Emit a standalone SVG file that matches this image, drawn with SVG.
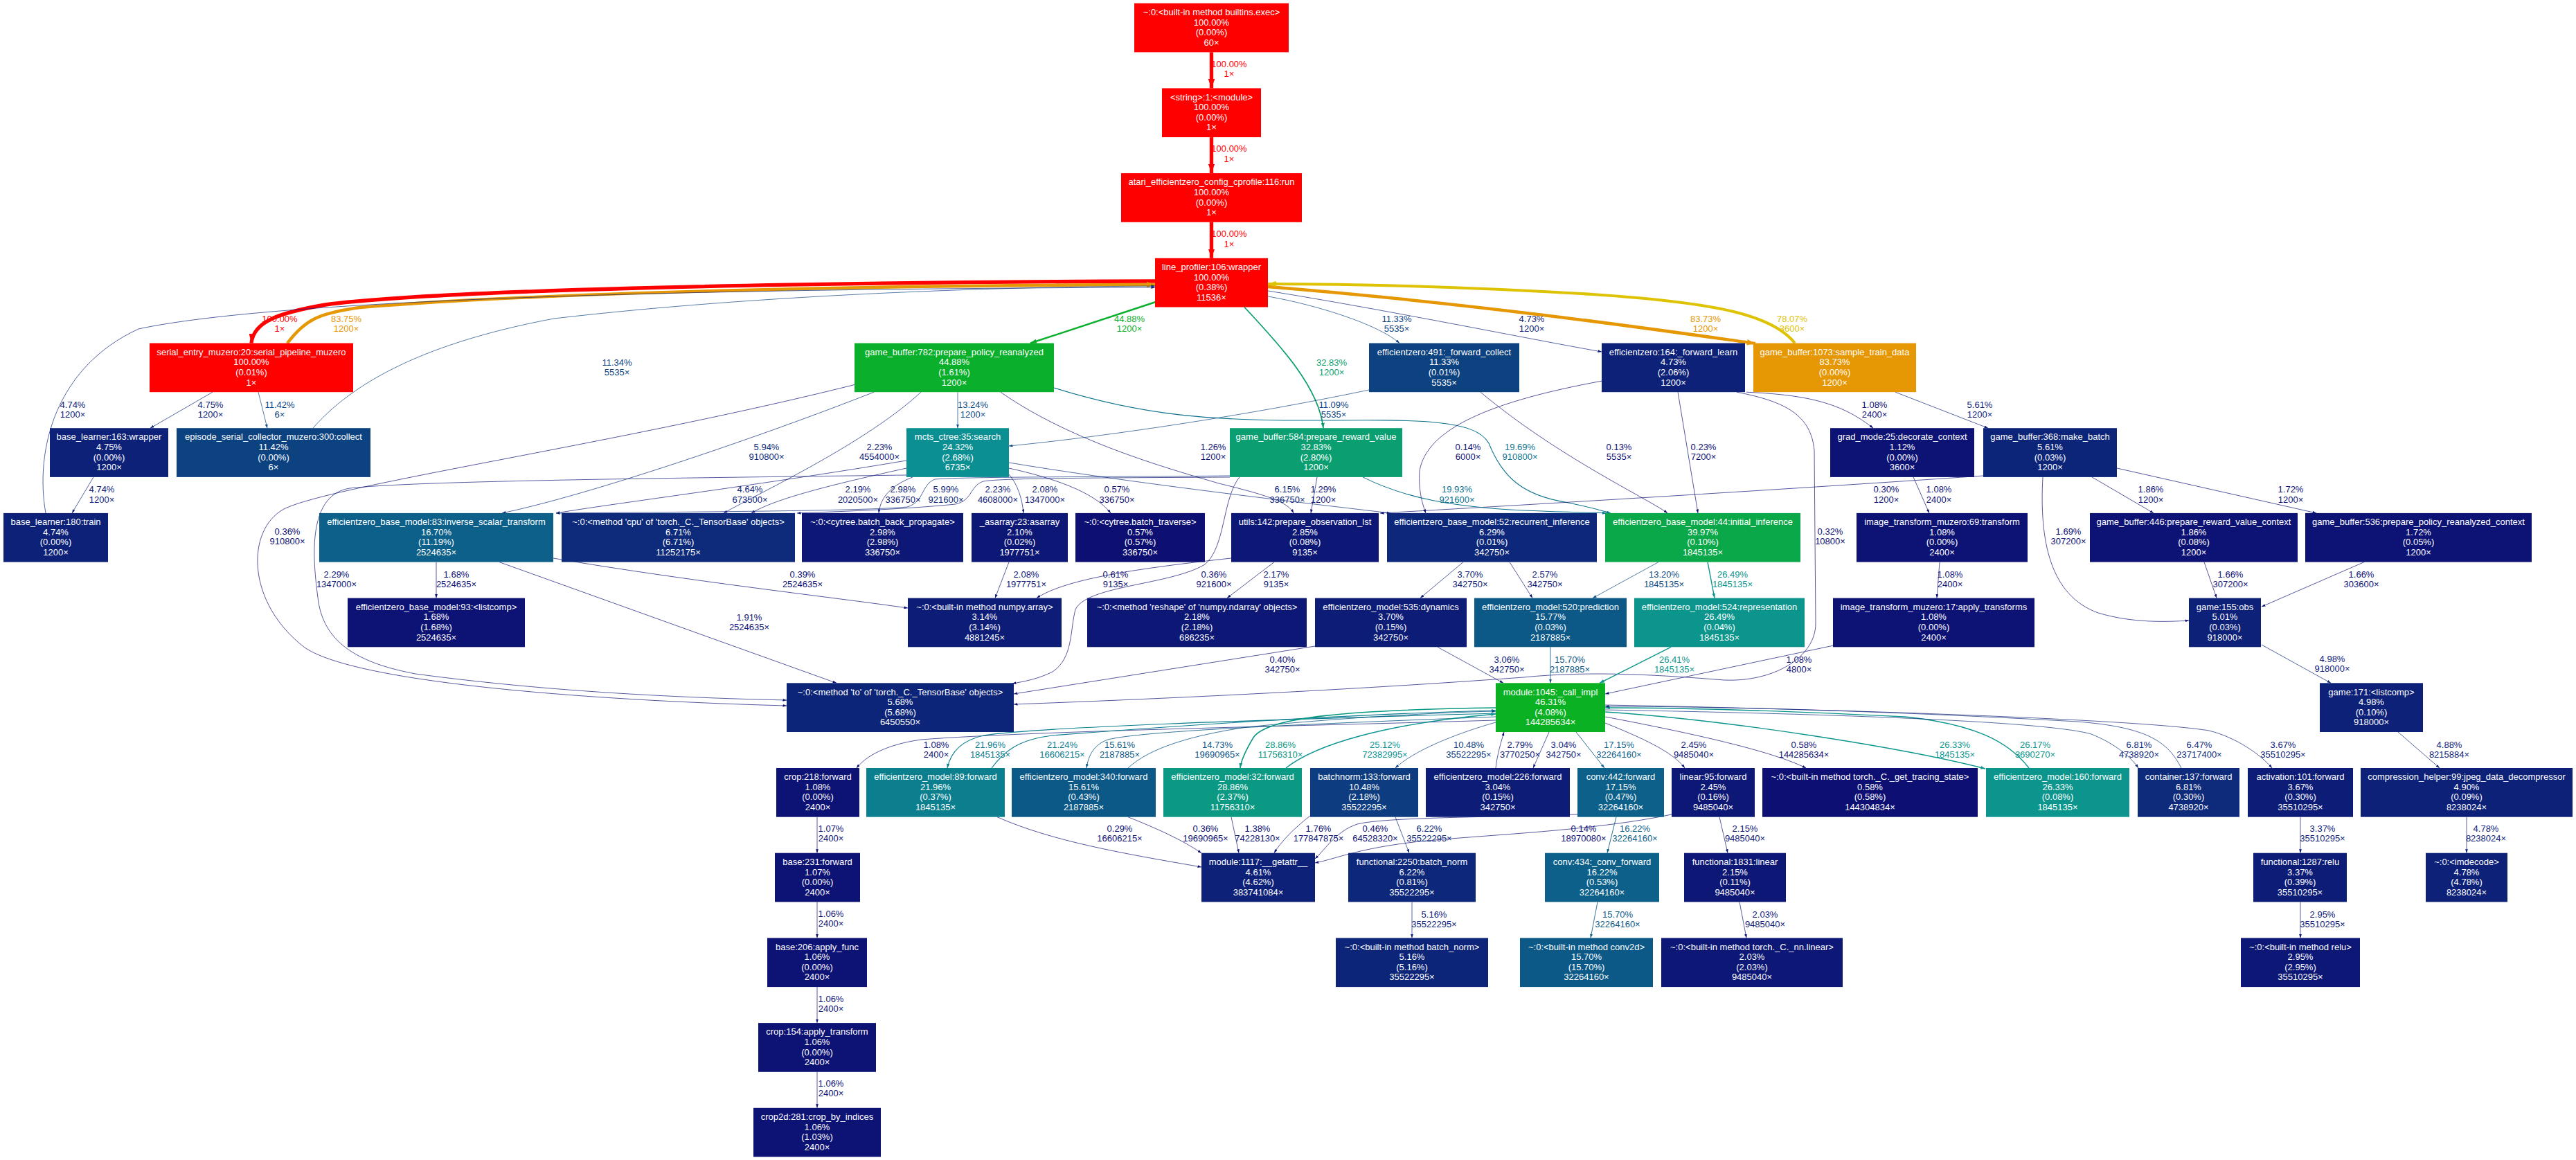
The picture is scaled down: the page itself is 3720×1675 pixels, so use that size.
<svg xmlns="http://www.w3.org/2000/svg" width="3720" height="1675" viewBox="0 0 3720 1675">
<style>
text{font-family:"Liberation Sans",Arial,Helvetica,sans-serif;font-size:13px}
.n text{fill:#fff;text-anchor:middle}
.l{text-anchor:middle}
.e{fill:none;stroke-width:.7}
.k-red{fill:#ff0000}.k-org{fill:#e69704}.k-g45{fill:#0aaf2c}.k-g46{fill:#0ab123}.k-g40{fill:#0ba84a}.k-g33{fill:#0b9e70}
.k-t29{fill:#0c9983}.k-t26{fill:#0c958d}.k-t24{fill:#0c8f92}.k-t22{fill:#0c7f8f}.k-b17{fill:#0c6089}.k-b16{fill:#0c5987}
.k-b11{fill:#0d4281}.k-b10{fill:#0d3d80}.k-n7{fill:#0d2a7b}.k-n6{fill:#0d287b}.k-n5{fill:#0d2579}.k-n4{fill:#0d2179}
.k-n3{fill:#0d1c77}.k-n2{fill:#0d1776}.k-n1{fill:#0d1275}.k-n0{fill:#0d0f73}
path.red{stroke:#ff0000;stroke-width:5.33;marker-end:url(#m-red)}text.red{fill:#ff0000}
path.org{stroke:#e69704;stroke-width:4.47;marker-end:url(#m-org)}text.org{fill:#e69704}
path.yel{stroke:#dec305;stroke-width:4.16;marker-end:url(#m-yel)}text.yel{fill:#dec305}
path.g45{stroke:#0aaf2c;stroke-width:2.39;marker-end:url(#m-g45)}text.g45{fill:#0aaf2c}
path.g33{stroke:#0b9e70;stroke-width:1.75;marker-end:url(#m-g33)}text.g33{fill:#0b9e70}
path.t29{stroke:#0c9983;stroke-width:1.54;marker-end:url(#m-t29)}text.t29{fill:#0c9983}
path.t26{stroke:#0c958d;stroke-width:1.4;marker-end:url(#m-t26)}text.t26{fill:#0c958d}
path.t25{stroke:#0c9493;stroke-width:1.34;marker-end:url(#m-t25)}text.t25{fill:#0c9493}
path.t22{stroke:#0c7d8f;stroke-width:1.15;marker-end:url(#m-t22)}text.t22{fill:#0c7d8f}
path.t20{stroke:#0c728d;stroke-width:1.05;marker-end:url(#m-t20)}text.t20{fill:#0c728d}
path.b17{stroke:#0c5f89;stroke-width:.9;marker-end:url(#m-b17)}text.b17{fill:#0c5f89}
path.b16{stroke:#0c5987;stroke-width:.84;marker-end:url(#m-b16)}text.b16{fill:#0c5987}
path.b15{stroke:#0c5486;stroke-width:.79;marker-end:url(#m-b15)}text.b15{fill:#0c5486}
path.b13{stroke:#0d4c84;stroke-width:.72;marker-end:url(#m-b13)}text.b13{fill:#0d4c84}
path.b11{stroke:#0d4281;marker-end:url(#m-b11)}text.b11{fill:#0d4281}
path.b10{stroke:#0d3d80;marker-end:url(#m-b10)}text.b10{fill:#0d3d80}
path.n7{stroke:#0d2a7b;marker-end:url(#m-n7)}text.n7{fill:#0d2a7b}
path.n5{stroke:#0d2279;marker-end:url(#m-n5)}text.n5{fill:#0d2279}
path.n3{stroke:#0d1c77;marker-end:url(#m-n3)}text.n3{fill:#0d1c77}
path.n2{stroke:#0d1776;marker-end:url(#m-n2)}text.n2{fill:#0d1776}
path.n1{stroke:#0d1275;marker-end:url(#m-n1)}text.n1{fill:#0d1275}
path.n0{stroke:#0d0f73;marker-end:url(#m-n0)}text.n0{fill:#0d0f73}
</style>
<defs>
<marker id="m-red" markerUnits="userSpaceOnUse" viewBox="0 0 13.3 9.4" markerWidth="13.3" markerHeight="9.4" refX="13.3" refY="4.7" orient="auto"><path d="M0,0L13.3,4.7L0,9.4z" fill="#ff0000"/></marker>
<marker id="m-org" markerUnits="userSpaceOnUse" viewBox="0 0 12.2 8.6" markerWidth="12.2" markerHeight="8.6" refX="12.2" refY="4.3" orient="auto"><path d="M0,0L12.2,4.3L0,8.6z" fill="#e69704"/></marker>
<marker id="m-yel" markerUnits="userSpaceOnUse" viewBox="0 0 11.8 8.4" markerWidth="11.8" markerHeight="8.4" refX="11.8" refY="4.2" orient="auto"><path d="M0,0L11.8,4.2L0,8.4z" fill="#dec305"/></marker>
<marker id="m-g45" markerUnits="userSpaceOnUse" viewBox="0 0 9 6.4" markerWidth="9" markerHeight="6.4" refX="9" refY="3.2" orient="auto"><path d="M0,0L9,3.2L0,6.4z" fill="#0aaf2c"/></marker>
<marker id="m-g33" markerUnits="userSpaceOnUse" viewBox="0 0 7.6 5.4" markerWidth="7.6" markerHeight="5.4" refX="7.6" refY="2.7" orient="auto"><path d="M0,0L7.6,2.7L0,5.4z" fill="#0b9e70"/></marker>
<marker id="m-t29" markerUnits="userSpaceOnUse" viewBox="0 0 7.2 5" markerWidth="7.2" markerHeight="5" refX="7.2" refY="2.5" orient="auto"><path d="M0,0L7.2,2.5L0,5z" fill="#0c9983"/></marker>
<marker id="m-t26" markerUnits="userSpaceOnUse" viewBox="0 0 6.8 4.8" markerWidth="6.8" markerHeight="4.8" refX="6.8" refY="2.4" orient="auto"><path d="M0,0L6.8,2.4L0,4.8z" fill="#0c958d"/></marker>
<marker id="m-t25" markerUnits="userSpaceOnUse" viewBox="0 0 6.7 4.7" markerWidth="6.7" markerHeight="4.7" refX="6.7" refY="2.35" orient="auto"><path d="M0,0L6.7,2.35L0,4.7z" fill="#0c9493"/></marker>
<marker id="m-t22" markerUnits="userSpaceOnUse" viewBox="0 0 6.3 4.4" markerWidth="6.3" markerHeight="4.4" refX="6.3" refY="2.2" orient="auto"><path d="M0,0L6.3,2.2L0,4.4z" fill="#0c7d8f"/></marker>
<marker id="m-t20" markerUnits="userSpaceOnUse" viewBox="0 0 6 4.2" markerWidth="6" markerHeight="4.2" refX="6" refY="2.1" orient="auto"><path d="M0,0L6,2.1L0,4.2z" fill="#0c728d"/></marker>
<marker id="m-b17" markerUnits="userSpaceOnUse" viewBox="0 0 5.8 4" markerWidth="5.8" markerHeight="4" refX="5.8" refY="2" orient="auto"><path d="M0,0L5.8,2L0,4z" fill="#0c5f89"/></marker>
<marker id="m-b16" markerUnits="userSpaceOnUse" viewBox="0 0 5.7 4" markerWidth="5.7" markerHeight="4" refX="5.7" refY="2" orient="auto"><path d="M0,0L5.7,2L0,4z" fill="#0c5987"/></marker>
<marker id="m-b15" markerUnits="userSpaceOnUse" viewBox="0 0 5.6 4" markerWidth="5.6" markerHeight="4" refX="5.6" refY="2" orient="auto"><path d="M0,0L5.6,2L0,4z" fill="#0c5486"/></marker>
<marker id="m-b13" markerUnits="userSpaceOnUse" viewBox="0 0 5.5 3.9" markerWidth="5.5" markerHeight="3.9" refX="5.5" refY="1.95" orient="auto"><path d="M0,0L5.5,1.95L0,3.9z" fill="#0d4c84"/></marker>
<marker id="m-b11" markerUnits="userSpaceOnUse" viewBox="0 0 5.5 3.9" markerWidth="5.5" markerHeight="3.9" refX="5.5" refY="1.95" orient="auto"><path d="M0,0L5.5,1.95L0,3.9z" fill="#0d4281"/></marker>
<marker id="m-b10" markerUnits="userSpaceOnUse" viewBox="0 0 5.5 3.9" markerWidth="5.5" markerHeight="3.9" refX="5.5" refY="1.95" orient="auto"><path d="M0,0L5.5,1.95L0,3.9z" fill="#0d3d80"/></marker>
<marker id="m-n7" markerUnits="userSpaceOnUse" viewBox="0 0 5.5 3.9" markerWidth="5.5" markerHeight="3.9" refX="5.5" refY="1.95" orient="auto"><path d="M0,0L5.5,1.95L0,3.9z" fill="#0d2a7b"/></marker>
<marker id="m-n5" markerUnits="userSpaceOnUse" viewBox="0 0 5.5 3.9" markerWidth="5.5" markerHeight="3.9" refX="5.5" refY="1.95" orient="auto"><path d="M0,0L5.5,1.95L0,3.9z" fill="#0d2279"/></marker>
<marker id="m-n3" markerUnits="userSpaceOnUse" viewBox="0 0 5.5 3.9" markerWidth="5.5" markerHeight="3.9" refX="5.5" refY="1.95" orient="auto"><path d="M0,0L5.5,1.95L0,3.9z" fill="#0d1c77"/></marker>
<marker id="m-n2" markerUnits="userSpaceOnUse" viewBox="0 0 5.5 3.9" markerWidth="5.5" markerHeight="3.9" refX="5.5" refY="1.95" orient="auto"><path d="M0,0L5.5,1.95L0,3.9z" fill="#0d1776"/></marker>
<marker id="m-n1" markerUnits="userSpaceOnUse" viewBox="0 0 5.5 3.9" markerWidth="5.5" markerHeight="3.9" refX="5.5" refY="1.95" orient="auto"><path d="M0,0L5.5,1.95L0,3.9z" fill="#0d1275"/></marker>
<marker id="m-n0" markerUnits="userSpaceOnUse" viewBox="0 0 5.5 3.9" markerWidth="5.5" markerHeight="3.9" refX="5.5" refY="1.95" orient="auto"><path d="M0,0L5.5,1.95L0,3.9z" fill="#0d0f73"/></marker>
</defs>
<rect width="3720" height="1675" fill="#fff"/>
<g id="connectors">
<path class="e red" d="M1749.5,75.4L1749.5,127.4"/><text class="l red" x="1775" y="96.5">100.00%<tspan x="1775" dy="14.5">1×</tspan></text>
<path class="e red" d="M1749.5,198.1L1749.5,250.1"/><text class="l red" x="1775" y="219">100.00%<tspan x="1775" dy="14.5">1×</tspan></text>
<path class="e red" d="M1749.5,320.8L1749.5,372.8"/><text class="l red" x="1775" y="342">100.00%<tspan x="1775" dy="14.5">1×</tspan></text>
<path class="e red" d="M1668,406C1100,408 620,420 470,440C400,452 366,465 363,495.5"/><text class="l red" x="404" y="464.5">100.00%<tspan x="404" dy="14.5">1×</tspan></text>
<path class="e org" d="M415,495.5C440,462 460,452 520,444C800,421 1300,412 1668,411"/><text class="l org" x="500" y="464.5">83.75%<tspan x="500" dy="14.5">1200×</tspan></text>
<path class="e org" d="M1831,414C2150,440 2420,480 2535,496"/><text class="l org" x="2463" y="464.5">83.73%<tspan x="2463" dy="14.5">1200×</tspan></text>
<path class="e yel" d="M2592,495.5C2560,455 2480,437 2300,425C2100,413 1950,410 1831,410"/><text class="l yel" x="2588" y="464.5">78.07%<tspan x="2588" dy="14.5">3600×</tspan></text>
<path class="e g45" d="M1672,435L1488,495.5"/><text class="l g45" x="1631" y="464.5">44.88%<tspan x="1631" dy="14.5">1200×</tspan></text>
<path class="e g33" d="M1797,443.5C1850,500 1905,560 1911,618.2"/><text class="l g33" x="1923" y="527.5">32.83%<tspan x="1923" dy="14.5">1200×</tspan></text>
<path class="e b11" d="M1831,428C1900,440 1990,468 2021,495.5"/><text class="l b11" x="2017" y="464.5">11.33%<tspan x="2017" dy="14.5">5535×</tspan></text>
<path class="e n5" d="M1831,420C2000,447 2200,488 2313,508"/><text class="l n5" x="2212" y="464.5">4.73%<tspan x="2212" dy="14.5">1200×</tspan></text>
<path class="e b11" d="M452,618.2C520,540 640,490 800,460C1100,425 1450,414 1668,413"/><text class="l b11" x="891" y="527.5">11.34%<tspan x="891" dy="14.5">5535×</tspan></text>
<path class="e n5" d="M66,740.9C50,650 80,530 200,475C400,432 1000,417 1668,415"/><text class="l n5" x="105" y="588.5">4.74%<tspan x="105" dy="14.5">1200×</tspan></text>
<path class="e n5" d="M307,566.2L217,618.2"/><text class="l n5" x="304" y="588.5">4.75%<tspan x="304" dy="14.5">1200×</tspan></text>
<path class="e b11" d="M373,566.2L386,618.2"/><text class="l b11" x="404" y="588.5">11.42%<tspan x="404" dy="14.5">6×</tspan></text>
<path class="e n5" d="M135,688.9L104,740.9"/><text class="l n5" x="147" y="711">4.74%<tspan x="147" dy="14.5">1200×</tspan></text>
<path class="e b13" d="M1383,566.2L1383,618.2"/><text class="l b13" x="1405" y="588.5">13.24%<tspan x="1405" dy="14.5">1200×</tspan></text>
<path class="e n7" d="M1262,566.2C1100,630 850,715 725,740.9"/><text class="l n7" x="1107" y="649.5">5.94%<tspan x="1107" dy="14.5">910800×</tspan></text>
<path class="e n5" d="M1330,566.2C1250,640 1100,710 1045,740.9"/><text class="l n5" x="1083" y="711">4.64%<tspan x="1083" dy="14.5">673500×</tspan></text>
<path class="e n0" d="M1244,553C900,640 480,700 410,735C355,765 355,870 440,935C520,990 900,1013 1136,1019"/><text class="l n0" x="415" y="771.5">0.36%<tspan x="415" dy="14.5">910800×</tspan></text>
<path class="e n2" d="M1309,686C1000,690 600,694 505,705C445,715 450,800 460,870C470,930 520,958 600,973C800,1000 1000,1008 1136,1011"/><text class="l n2" x="486" y="833.5">2.29%<tspan x="486" dy="14.5">1347000×</tspan></text>
<path class="e t20" d="M1522,560C1650,600 1750,608 1900,607C2050,606 2130,605 2150,640C2170,690 2200,715 2260,725C2300,733 2315,738 2326,741"/><text class="l t20" x="2195" y="649.5">19.69%<tspan x="2195" dy="14.5">910800×</tspan></text>
<path class="e n1" d="M1445,566.2C1550,640 1700,680 1760,698C1830,715 1860,725 1868,740.9"/><text class="l n1" x="1752" y="649.5">1.26%<tspan x="1752" dy="14.5">1200×</tspan></text>
<path class="e n2" d="M1309,665C1100,700 900,725 803,740.9"/><text class="l n2" x="1270" y="649.5">2.23%<tspan x="1270" dy="14.5">4554000×</tspan></text>
<path class="e n7" d="M1776,687C1600,689 1400,688 1350,692C1330,700 1335,725 1310,732C1250,738 1000,739 803,741"/><text class="l n7" x="1366" y="711">5.99%<tspan x="1366" dy="14.5">921600×</tspan></text>
<path class="e n2" d="M1776,689C1600,690 1450,690 1420,695C1400,702 1405,722 1380,728C1300,736 1200,739 1151,740.9"/><text class="l n2" x="1441" y="711">2.23%<tspan x="1441" dy="14.5">4608000×</tspan></text>
<path class="e n2" d="M1309,676C1200,700 1120,720 1085,740.9"/><text class="l n2" x="1239" y="711">2.19%<tspan x="1239" dy="14.5">2020500×</tspan></text>
<path class="e n2" d="M1318,688.9C1290,700 1272,715 1269,740.9"/><text class="l n2" x="1304" y="711">2.98%<tspan x="1304" dy="14.5">336750×</tspan></text>
<path class="e n2" d="M1457,685C1470,700 1476,720 1478,740.9"/><text class="l n2" x="1509" y="711">2.08%<tspan x="1509" dy="14.5">1347000×</tspan></text>
<path class="e n0" d="M1457,676C1520,690 1580,710 1604,740.9"/><text class="l n0" x="1613" y="711">0.57%<tspan x="1613" dy="14.5">336750×</tspan></text>
<path class="e n7" d="M1457,668C1650,700 1900,728 2008,741"/><text class="l n7" x="1859" y="711">6.15%<tspan x="1859" dy="14.5">336750×</tspan></text>
<path class="e b11" d="M1977,563C1800,600 1600,630 1457,644"/><text class="l b11" x="1926" y="588.5">11.09%<tspan x="1926" dy="14.5">5535×</tspan></text>
<path class="e n0" d="M2138,566.2C2250,660 2380,720 2408,740.9"/><text class="l n0" x="2338" y="649.5">0.13%<tspan x="2338" dy="14.5">5535×</tspan></text>
<path class="e n0" d="M2314,550C2150,580 2060,620 2050,680C2048,710 2055,730 2059,740.9"/><text class="l n0" x="2120" y="649.5">0.14%<tspan x="2120" dy="14.5">6000×</tspan></text>
<path class="e n0" d="M2423,566.2L2452,740.9"/><text class="l n0" x="2460" y="649.5">0.23%<tspan x="2460" dy="14.5">7200×</tspan></text>
<path class="e n0" d="M2508,566.2C2580,580 2615,600 2620,650L2622,900C2622,950 2560,985 2490,982C2400,975 2300,968 2200,978C1900,1000 1600,1012 1464,1017"/><text class="l n0" x="2643" y="771.5">0.32%<tspan x="2643" dy="14.5">10800×</tspan></text>
<path class="e n0" d="M2864,687C2500,712 2100,735 1993,741"/><text class="l n0" x="2724" y="711">0.30%<tspan x="2724" dy="14.5">1200×</tspan></text>
<path class="e n1" d="M2522,566.2C2600,570 2655,578 2705,618.2"/><text class="l n1" x="2707" y="588.5">1.08%<tspan x="2707" dy="14.5">2400×</tspan></text>
<path class="e n5" d="M2737,566.2L2871,618.2"/><text class="l n5" x="2859" y="588.5">5.61%<tspan x="2859" dy="14.5">1200×</tspan></text>
<path class="e n1" d="M2763,688.9L2786,740.9"/><text class="l n1" x="2800" y="711">1.08%<tspan x="2800" dy="14.5">2400×</tspan></text>
<path class="e n1" d="M2801,811.6L2797,863.6"/><text class="l n1" x="2816" y="833.5">1.08%<tspan x="2816" dy="14.5">2400×</tspan></text>
<path class="e n1" d="M3021,688.9L3110,740.9"/><text class="l n1" x="3106" y="711">1.86%<tspan x="3106" dy="14.5">1200×</tspan></text>
<path class="e n1" d="M3057,676L3345,740.9"/><text class="l n1" x="3308" y="711">1.72%<tspan x="3308" dy="14.5">1200×</tspan></text>
<path class="e n1" d="M2950,688.9C2945,780 2960,860 3030,885C3080,900 3130,898 3161,896"/><text class="l n1" x="2987" y="771.5">1.69%<tspan x="2987" dy="14.5">307200×</tspan></text>
<path class="e n1" d="M3183,811.6L3201,863.6"/><text class="l n1" x="3221" y="833.5">1.66%<tspan x="3221" dy="14.5">307200×</tspan></text>
<path class="e n1" d="M3414,811.6L3266,876"/><text class="l n1" x="3410" y="833.5">1.66%<tspan x="3410" dy="14.5">303600×</tspan></text>
<path class="e n5" d="M3266,931L3366,986.3"/><text class="l n5" x="3368" y="955.5">4.98%<tspan x="3368" dy="14.5">918000×</tspan></text>
<path class="e n5" d="M3463,1057L3523,1109"/><text class="l n5" x="3537" y="1079.5">4.88%<tspan x="3537" dy="14.5">8215884×</tspan></text>
<path class="e n5" d="M3562,1179.7L3562,1231.7"/><text class="l n5" x="3590" y="1200.5">4.78%<tspan x="3590" dy="14.5">8238024×</tspan></text>
<path class="e n3" d="M3322,1179.7L3322,1231.7"/><text class="l n3" x="3354" y="1200.5">3.37%<tspan x="3354" dy="14.5">35510295×</tspan></text>
<path class="e n2" d="M3322,1302.4L3322,1354.4"/><text class="l n2" x="3354" y="1324.5">2.95%<tspan x="3354" dy="14.5">35510295×</tspan></text>
<path class="e n1" d="M630,811.6L630,863.6"/><text class="l n1" x="659" y="833.5">1.68%<tspan x="659" dy="14.5">2524635×</tspan></text>
<path class="e n1" d="M721,811.6L1208,986.3"/><text class="l n1" x="1082" y="895.5">1.91%<tspan x="1082" dy="14.5">2524635×</tspan></text>
<path class="e n0" d="M799,806C1000,840 1200,862 1311,878"/><text class="l n0" x="1159" y="833.5">0.39%<tspan x="1159" dy="14.5">2524635×</tspan></text>
<path class="e n2" d="M1457,811.6L1437,863.6"/><text class="l n2" x="1482" y="833.5">2.08%<tspan x="1482" dy="14.5">1977751×</tspan></text>
<path class="e n0" d="M1778,806C1650,820 1540,835 1497,863.6"/><text class="l n0" x="1611" y="833.5">0.61%<tspan x="1611" dy="14.5">9135×</tspan></text>
<path class="e n2" d="M1840,811.6L1772,863.6"/><text class="l n2" x="1843" y="833.5">2.17%<tspan x="1843" dy="14.5">9135×</tspan></text>
<path class="e n0" d="M1790,688.9C1765,720 1770,790 1740,815C1690,845 1570,845 1553,880C1545,910 1550,950 1520,970C1500,980 1480,984 1462,987"/><text class="l n0" x="1753" y="833.5">0.36%<tspan x="1753" dy="14.5">921600×</tspan></text>
<path class="e n3" d="M2113,811.6L2051,863.6"/><text class="l n3" x="2123" y="833.5">3.70%<tspan x="2123" dy="14.5">342750×</tspan></text>
<path class="e n2" d="M2180,811.6L2213,863.6"/><text class="l n2" x="2231" y="833.5">2.57%<tspan x="2231" dy="14.5">342750×</tspan></text>
<path class="e b13" d="M2395,811.6L2300,863.6"/><text class="l b13" x="2403" y="833.5">13.20%<tspan x="2403" dy="14.5">1845135×</tspan></text>
<path class="e t26" d="M2466,811.6L2476,863.6"/><text class="l t26" x="2502" y="833.5">26.49%<tspan x="2502" dy="14.5">1845135×</tspan></text>
<path class="e n3" d="M2076,934.3L2171,986.3"/><text class="l n3" x="2176" y="956.5">3.06%<tspan x="2176" dy="14.5">342750×</tspan></text>
<path class="e b16" d="M2239,934.3L2239,986.3"/><text class="l b16" x="2267" y="956.5">15.70%<tspan x="2267" dy="14.5">2187885×</tspan></text>
<path class="e t26" d="M2413,934.3L2310,986.3"/><text class="l t26" x="2418" y="956.5">26.41%<tspan x="2418" dy="14.5">1845135×</tspan></text>
<path class="e n1" d="M2648,932L2318,1002"/><text class="l n1" x="2598" y="956.5">1.08%<tspan x="2598" dy="14.5">4800×</tspan></text>
<path class="e n0" d="M1899,933L1464,1002"/><text class="l n0" x="1852" y="956.5">0.40%<tspan x="1852" dy="14.5">342750×</tspan></text>
<path class="e n1" d="M2160,1040C1900,1048 1500,1055 1330,1068C1280,1075 1250,1092 1237,1109"/><text class="l n1" x="1352" y="1079.5">1.08%<tspan x="1352" dy="14.5">2400×</tspan></text>
<path class="e t22" d="M2160,1030C1800,1040 1500,1050 1420,1062C1385,1070 1372,1090 1368,1109"/><text class="l t22" x="1430" y="1079.5">21.96%<tspan x="1430" dy="14.5">1845135×</tspan></text>
<path class="e t22" d="M1432,1109C1450,1085 1470,1068 1520,1062C1800,1040 2000,1030 2160,1026"/><text class="l t22" x="1534" y="1079.5">21.24%<tspan x="1534" dy="14.5">16606215×</tspan></text>
<path class="e b16" d="M2160,1035C1900,1045 1650,1055 1600,1068C1580,1075 1572,1090 1569,1109"/><text class="l b16" x="1617" y="1079.5">15.61%<tspan x="1617" dy="14.5">2187885×</tspan></text>
<path class="e b15" d="M1629,1109C1660,1080 1720,1062 1800,1050C1950,1035 2100,1028 2160,1027"/><text class="l b15" x="1758" y="1079.5">14.73%<tspan x="1758" dy="14.5">19690965×</tspan></text>
<path class="e t29" d="M2160,1022C1950,1025 1830,1035 1810,1065C1798,1085 1792,1100 1791,1109"/><text class="l t29" x="1849" y="1079.5">28.86%<tspan x="1849" dy="14.5">11756310×</tspan></text>
<path class="e t25" d="M1857,1109C1900,1075 2000,1045 2160,1031"/><text class="l t25" x="2000" y="1079.5">25.12%<tspan x="2000" dy="14.5">72382995×</tspan></text>
<path class="e b10" d="M2160,1043C2100,1060 2040,1085 2015,1109"/><text class="l b10" x="2121" y="1079.5">10.48%<tspan x="2121" dy="14.5">35522295×</tspan></text>
<path class="e n2" d="M2160,1109C2162,1090 2168,1070 2172,1057"/><text class="l n2" x="2195" y="1079.5">2.79%<tspan x="2195" dy="14.5">3770250×</tspan></text>
<path class="e n3" d="M2237,1057L2214,1109"/><text class="l n3" x="2258" y="1079.5">3.04%<tspan x="2258" dy="14.5">342750×</tspan></text>
<path class="e b17" d="M2276,1057L2317,1109"/><text class="l b17" x="2338" y="1079.5">17.15%<tspan x="2338" dy="14.5">32264160×</tspan></text>
<path class="e n2" d="M2318,1044C2370,1065 2415,1085 2433,1109"/><text class="l n2" x="2446" y="1079.5">2.45%<tspan x="2446" dy="14.5">9485040×</tspan></text>
<path class="e n0" d="M2318,1035C2450,1060 2560,1085 2608,1109"/><text class="l n0" x="2605" y="1079.5">0.58%<tspan x="2605" dy="14.5">144285634×</tspan></text>
<path class="e t26" d="M2318,1028C2500,1040 2750,1080 2867,1110"/><text class="l t26" x="2823" y="1079.5">26.33%<tspan x="2823" dy="14.5">1845135×</tspan></text>
<path class="e t26" d="M2930,1109C2900,1070 2850,1045 2750,1035C2550,1025 2400,1022 2318,1022"/><text class="l t26" x="2939" y="1079.5">26.17%<tspan x="2939" dy="14.5">3690270×</tspan></text>
<path class="e n7" d="M2318,1025C2600,1030 2950,1040 3020,1060C3050,1072 3075,1090 3088,1109"/><text class="l n7" x="3089" y="1079.5">6.81%<tspan x="3089" dy="14.5">4738920×</tspan></text>
<path class="e n7" d="M3150,1109C3130,1070 3100,1050 3000,1042C2700,1025 2450,1020 2318,1020"/><text class="l n7" x="3176" y="1079.5">6.47%<tspan x="3176" dy="14.5">23717400×</tspan></text>
<path class="e n3" d="M2318,1018C2700,1025 3100,1040 3190,1055C3230,1065 3265,1090 3281,1109"/><text class="l n3" x="3297" y="1079.5">3.67%<tspan x="3297" dy="14.5">35510295×</tspan></text>
<path class="e n1" d="M1180,1179.7L1180,1231.7"/><text class="l n1" x="1200" y="1200.5">1.07%<tspan x="1200" dy="14.5">2400×</tspan></text>
<path class="e n1" d="M1180,1302.4L1180,1354.4"/><text class="l n1" x="1200" y="1323.5">1.06%<tspan x="1200" dy="14.5">2400×</tspan></text>
<path class="e n1" d="M1180,1425.1L1180,1477.1"/><text class="l n1" x="1200" y="1446.5">1.06%<tspan x="1200" dy="14.5">2400×</tspan></text>
<path class="e n1" d="M1180,1547.8L1180,1599.8"/><text class="l n1" x="1200" y="1568.5">1.06%<tspan x="1200" dy="14.5">2400×</tspan></text>
<path class="e n0" d="M1440,1179.7C1520,1215 1620,1232 1735,1252"/><text class="l n0" x="1617" y="1200.5">0.29%<tspan x="1617" dy="14.5">16606215×</tspan></text>
<path class="e n0" d="M1629,1179.7C1680,1200 1710,1215 1735,1231.7"/><text class="l n0" x="1741" y="1200.5">0.36%<tspan x="1741" dy="14.5">19690965×</tspan></text>
<path class="e n1" d="M1778,1179.7L1789,1231.7"/><text class="l n1" x="1816" y="1200.5">1.38%<tspan x="1816" dy="14.5">74228130×</tspan></text>
<path class="e n1" d="M1892,1178C1870,1195 1850,1215 1840,1231.7"/><text class="l n1" x="1904" y="1200.5">1.76%<tspan x="1904" dy="14.5">177847875×</tspan></text>
<path class="e n0" d="M2278,1176C2150,1180 2000,1180 1960,1190C1930,1200 1915,1225 1899,1240"/><text class="l n0" x="1986" y="1200.5">0.46%<tspan x="1986" dy="14.5">64528320×</tspan></text>
<path class="e n0" d="M2414,1176C2300,1200 2150,1205 2050,1215C1960,1225 1930,1240 1899,1246"/><text class="l n0" x="2287" y="1200.5">0.14%<tspan x="2287" dy="14.5">18970080×</tspan></text>
<path class="e n7" d="M2015,1179.7L2035,1231.7"/><text class="l n7" x="2064" y="1200.5">6.22%<tspan x="2064" dy="14.5">35522295×</tspan></text>
<path class="e b17" d="M2334,1179.7L2321,1231.7"/><text class="l b17" x="2361" y="1200.5">16.22%<tspan x="2361" dy="14.5">32264160×</tspan></text>
<path class="e n2" d="M2483,1179.7L2495,1231.7"/><text class="l n2" x="2520" y="1200.5">2.15%<tspan x="2520" dy="14.5">9485040×</tspan></text>
<path class="e n5" d="M2039,1302.4L2039,1354.4"/><text class="l n5" x="2071" y="1324.5">5.16%<tspan x="2071" dy="14.5">35522295×</tspan></text>
<path class="e b16" d="M2307,1302.4L2297,1354.4"/><text class="l b16" x="2336" y="1324.5">15.70%<tspan x="2336" dy="14.5">32264160×</tspan></text>
<path class="e n2" d="M2512,1302.4L2522,1354.4"/><text class="l n2" x="2549" y="1324.5">2.03%<tspan x="2549" dy="14.5">9485040×</tspan></text>
<path class="e t20" d="M1968,688.9C2030,720 2100,732 2200,737C2270,740 2300,740 2320,741"/><text class="l t20" x="2104" y="711">19.93%<tspan x="2104" dy="14.5">921600×</tspan></text>
<path class="e n1" d="M1902,688.9L1893,740.9"/><text class="l n1" x="1911" y="711">1.29%<tspan x="1911" dy="14.5">1200×</tspan></text>
</g>
<g id="n_exec" class="n"><rect class="k-red" x="1638" y="4.7" width="223" height="70.7"/><text x="1749.5" y="21.9">~:0:&lt;built-in method builtins.exec&gt;<tspan x="1749.5" dy="14.6">100.00%</tspan><tspan x="1749.5" dy="14.6">(0.00%)</tspan><tspan x="1749.5" dy="14.6">60×</tspan></text></g>
<g id="n_string" class="n"><rect class="k-red" x="1678" y="127.4" width="143" height="70.7"/><text x="1749.5" y="144.6">&lt;string&gt;:1:&lt;module&gt;<tspan x="1749.5" dy="14.6">100.00%</tspan><tspan x="1749.5" dy="14.6">(0.00%)</tspan><tspan x="1749.5" dy="14.6">1×</tspan></text></g>
<g id="n_atari" class="n"><rect class="k-red" x="1619" y="250.1" width="261" height="70.7"/><text x="1749.5" y="267.3">atari_efficientzero_config_cprofile:116:run<tspan x="1749.5" dy="14.6">100.00%</tspan><tspan x="1749.5" dy="14.6">(0.00%)</tspan><tspan x="1749.5" dy="14.6">1×</tspan></text></g>
<g id="n_lp" class="n"><rect class="k-red" x="1668" y="372.8" width="163" height="70.7"/><text x="1749.5" y="390">line_profiler:106:wrapper<tspan x="1749.5" dy="14.6">100.00%</tspan><tspan x="1749.5" dy="14.6">(0.38%)</tspan><tspan x="1749.5" dy="14.6">11536×</tspan></text></g>
<g id="n_serial" class="n"><rect class="k-red" x="216" y="495.5" width="294" height="70.7"/><text x="363" y="512.7">serial_entry_muzero:20:serial_pipeline_muzero<tspan x="363" dy="14.6">100.00%</tspan><tspan x="363" dy="14.6">(0.01%)</tspan><tspan x="363" dy="14.6">1×</tspan></text></g>
<g id="n_gb782" class="n"><rect class="k-g45" x="1234" y="495.5" width="288" height="70.7"/><text x="1378" y="512.7">game_buffer:782:prepare_policy_reanalyzed<tspan x="1378" dy="14.6">44.88%</tspan><tspan x="1378" dy="14.6">(1.61%)</tspan><tspan x="1378" dy="14.6">1200×</tspan></text></g>
<g id="n_fcollect" class="n"><rect class="k-b11" x="1977" y="495.5" width="217" height="70.7"/><text x="2085.5" y="512.7">efficientzero:491:_forward_collect<tspan x="2085.5" dy="14.6">11.33%</tspan><tspan x="2085.5" dy="14.6">(0.01%)</tspan><tspan x="2085.5" dy="14.6">5535×</tspan></text></g>
<g id="n_flearn" class="n"><rect class="k-n4" x="2313" y="495.5" width="207" height="70.7"/><text x="2416.5" y="512.7">efficientzero:164:_forward_learn<tspan x="2416.5" dy="14.6">4.73%</tspan><tspan x="2416.5" dy="14.6">(2.06%)</tspan><tspan x="2416.5" dy="14.6">1200×</tspan></text></g>
<g id="n_std" class="n"><rect class="k-org" x="2532" y="495.5" width="235" height="70.7"/><text x="2649.5" y="512.7">game_buffer:1073:sample_train_data<tspan x="2649.5" dy="14.6">83.73%</tspan><tspan x="2649.5" dy="14.6">(0.00%)</tspan><tspan x="2649.5" dy="14.6">1200×</tspan></text></g>
<g id="n_bl163" class="n"><rect class="k-n4" x="72" y="618.2" width="171" height="70.7"/><text x="157.5" y="635.4">base_learner:163:wrapper<tspan x="157.5" dy="14.6">4.75%</tspan><tspan x="157.5" dy="14.6">(0.00%)</tspan><tspan x="157.5" dy="14.6">1200×</tspan></text></g>
<g id="n_esc" class="n"><rect class="k-b11" x="255" y="618.2" width="280" height="70.7"/><text x="395" y="635.4">episode_serial_collector_muzero:300:collect<tspan x="395" dy="14.6">11.42%</tspan><tspan x="395" dy="14.6">(0.00%)</tspan><tspan x="395" dy="14.6">6×</tspan></text></g>
<g id="n_mcts" class="n"><rect class="k-t24" x="1309" y="618.2" width="148" height="70.7"/><text x="1383" y="635.4">mcts_ctree:35:search<tspan x="1383" dy="14.6">24.32%</tspan><tspan x="1383" dy="14.6">(2.68%)</tspan><tspan x="1383" dy="14.6">6735×</tspan></text></g>
<g id="n_gb584" class="n"><rect class="k-g33" x="1776" y="618.2" width="249" height="70.7"/><text x="1900.5" y="635.4">game_buffer:584:prepare_reward_value<tspan x="1900.5" dy="14.6">32.83%</tspan><tspan x="1900.5" dy="14.6">(2.80%)</tspan><tspan x="1900.5" dy="14.6">1200×</tspan></text></g>
<g id="n_grad" class="n"><rect class="k-n1" x="2643" y="618.2" width="208" height="70.7"/><text x="2747" y="635.4">grad_mode:25:decorate_context<tspan x="2747" dy="14.6">1.12%</tspan><tspan x="2747" dy="14.6">(0.00%)</tspan><tspan x="2747" dy="14.6">3600×</tspan></text></g>
<g id="n_makebatch" class="n"><rect class="k-n5" x="2864" y="618.2" width="193" height="70.7"/><text x="2960.5" y="635.4">game_buffer:368:make_batch<tspan x="2960.5" dy="14.6">5.61%</tspan><tspan x="2960.5" dy="14.6">(0.03%)</tspan><tspan x="2960.5" dy="14.6">1200×</tspan></text></g>
<g id="n_train" class="n"><rect class="k-n4" x="5" y="740.9" width="151" height="70.7"/><text x="80.5" y="758.1">base_learner:180:train<tspan x="80.5" dy="14.6">4.74%</tspan><tspan x="80.5" dy="14.6">(0.00%)</tspan><tspan x="80.5" dy="14.6">1200×</tspan></text></g>
<g id="n_inv" class="n"><rect class="k-b17" x="461" y="740.9" width="338" height="70.7"/><text x="630" y="758.1">efficientzero_base_model:83:inverse_scalar_transform<tspan x="630" dy="14.6">16.70%</tspan><tspan x="630" dy="14.6">(11.19%)</tspan><tspan x="630" dy="14.6">2524635×</tspan></text></g>
<g id="n_cpu" class="n"><rect class="k-n7" x="811" y="740.9" width="337" height="70.7"/><text x="979.5" y="758.1">~:0:&lt;method 'cpu' of 'torch._C._TensorBase' objects&gt;<tspan x="979.5" dy="14.6">6.71%</tspan><tspan x="979.5" dy="14.6">(6.71%)</tspan><tspan x="979.5" dy="14.6">11252175×</tspan></text></g>
<g id="n_bbp" class="n"><rect class="k-n2" x="1158" y="740.9" width="233" height="70.7"/><text x="1274.5" y="758.1">~:0:&lt;cytree.batch_back_propagate&gt;<tspan x="1274.5" dy="14.6">2.98%</tspan><tspan x="1274.5" dy="14.6">(2.98%)</tspan><tspan x="1274.5" dy="14.6">336750×</tspan></text></g>
<g id="n_asarray" class="n"><rect class="k-n2" x="1403" y="740.9" width="139" height="70.7"/><text x="1472.5" y="758.1">_asarray:23:asarray<tspan x="1472.5" dy="14.6">2.10%</tspan><tspan x="1472.5" dy="14.6">(0.02%)</tspan><tspan x="1472.5" dy="14.6">1977751×</tspan></text></g>
<g id="n_btrav" class="n"><rect class="k-n0" x="1553" y="740.9" width="187" height="70.7"/><text x="1646.5" y="758.1">~:0:&lt;cytree.batch_traverse&gt;<tspan x="1646.5" dy="14.6">0.57%</tspan><tspan x="1646.5" dy="14.6">(0.57%)</tspan><tspan x="1646.5" dy="14.6">336750×</tspan></text></g>
<g id="n_pol" class="n"><rect class="k-n2" x="1778" y="740.9" width="213" height="70.7"/><text x="1884.5" y="758.1">utils:142:prepare_observation_lst<tspan x="1884.5" dy="14.6">2.85%</tspan><tspan x="1884.5" dy="14.6">(0.08%)</tspan><tspan x="1884.5" dy="14.6">9135×</tspan></text></g>
<g id="n_rec" class="n"><rect class="k-n6" x="2003" y="740.9" width="303" height="70.7"/><text x="2154.5" y="758.1">efficientzero_base_model:52:recurrent_inference<tspan x="2154.5" dy="14.6">6.29%</tspan><tspan x="2154.5" dy="14.6">(0.01%)</tspan><tspan x="2154.5" dy="14.6">342750×</tspan></text></g>
<g id="n_init" class="n"><rect class="k-g40" x="2318" y="740.9" width="282" height="70.7"/><text x="2459" y="758.1">efficientzero_base_model:44:initial_inference<tspan x="2459" dy="14.6">39.97%</tspan><tspan x="2459" dy="14.6">(0.10%)</tspan><tspan x="2459" dy="14.6">1845135×</tspan></text></g>
<g id="n_it69" class="n"><rect class="k-n1" x="2681" y="740.9" width="247" height="70.7"/><text x="2804.5" y="758.1">image_transform_muzero:69:transform<tspan x="2804.5" dy="14.6">1.08%</tspan><tspan x="2804.5" dy="14.6">(0.00%)</tspan><tspan x="2804.5" dy="14.6">2400×</tspan></text></g>
<g id="n_prvc" class="n"><rect class="k-n1" x="3018" y="740.9" width="300" height="70.7"/><text x="3168" y="758.1">game_buffer:446:prepare_reward_value_context<tspan x="3168" dy="14.6">1.86%</tspan><tspan x="3168" dy="14.6">(0.08%)</tspan><tspan x="3168" dy="14.6">1200×</tspan></text></g>
<g id="n_pprc" class="n"><rect class="k-n1" x="3329" y="740.9" width="327" height="70.7"/><text x="3492.5" y="758.1">game_buffer:536:prepare_policy_reanalyzed_context<tspan x="3492.5" dy="14.6">1.72%</tspan><tspan x="3492.5" dy="14.6">(0.05%)</tspan><tspan x="3492.5" dy="14.6">1200×</tspan></text></g>
<g id="n_lc93" class="n"><rect class="k-n1" x="502" y="863.6" width="256" height="70.7"/><text x="630" y="880.8">efficientzero_base_model:93:&lt;listcomp&gt;<tspan x="630" dy="14.6">1.68%</tspan><tspan x="630" dy="14.6">(1.68%)</tspan><tspan x="630" dy="14.6">2524635×</tspan></text></g>
<g id="n_nparr" class="n"><rect class="k-n3" x="1311" y="863.6" width="222" height="70.7"/><text x="1422" y="880.8">~:0:&lt;built-in method numpy.array&gt;<tspan x="1422" dy="14.6">3.14%</tspan><tspan x="1422" dy="14.6">(3.14%)</tspan><tspan x="1422" dy="14.6">4881245×</tspan></text></g>
<g id="n_reshape" class="n"><rect class="k-n2" x="1570" y="863.6" width="317" height="70.7"/><text x="1728.5" y="880.8">~:0:&lt;method 'reshape' of 'numpy.ndarray' objects&gt;<tspan x="1728.5" dy="14.6">2.18%</tspan><tspan x="1728.5" dy="14.6">(2.18%)</tspan><tspan x="1728.5" dy="14.6">686235×</tspan></text></g>
<g id="n_dyn" class="n"><rect class="k-n3" x="1899" y="863.6" width="219" height="70.7"/><text x="2008.5" y="880.8">efficientzero_model:535:dynamics<tspan x="2008.5" dy="14.6">3.70%</tspan><tspan x="2008.5" dy="14.6">(0.15%)</tspan><tspan x="2008.5" dy="14.6">342750×</tspan></text></g>
<g id="n_pred" class="n"><rect class="k-b16" x="2129" y="863.6" width="220" height="70.7"/><text x="2239" y="880.8">efficientzero_model:520:prediction<tspan x="2239" dy="14.6">15.77%</tspan><tspan x="2239" dy="14.6">(0.03%)</tspan><tspan x="2239" dy="14.6">2187885×</tspan></text></g>
<g id="n_repr" class="n"><rect class="k-t26" x="2360" y="863.6" width="246" height="70.7"/><text x="2483" y="880.8">efficientzero_model:524:representation<tspan x="2483" dy="14.6">26.49%</tspan><tspan x="2483" dy="14.6">(0.04%)</tspan><tspan x="2483" dy="14.6">1845135×</tspan></text></g>
<g id="n_apply" class="n"><rect class="k-n1" x="2647" y="863.6" width="291" height="70.7"/><text x="2792.5" y="880.8">image_transform_muzero:17:apply_transforms<tspan x="2792.5" dy="14.6">1.08%</tspan><tspan x="2792.5" dy="14.6">(0.00%)</tspan><tspan x="2792.5" dy="14.6">2400×</tspan></text></g>
<g id="n_obs" class="n"><rect class="k-n4" x="3161" y="863.6" width="104" height="70.7"/><text x="3213" y="880.8">game:155:obs<tspan x="3213" dy="14.6">5.01%</tspan><tspan x="3213" dy="14.6">(0.03%)</tspan><tspan x="3213" dy="14.6">918000×</tspan></text></g>
<g id="n_to" class="n"><rect class="k-n5" x="1136" y="986.3" width="328" height="70.7"/><text x="1300" y="1003.5">~:0:&lt;method 'to' of 'torch._C._TensorBase' objects&gt;<tspan x="1300" dy="14.6">5.68%</tspan><tspan x="1300" dy="14.6">(5.68%)</tspan><tspan x="1300" dy="14.6">6450550×</tspan></text></g>
<g id="n_call" class="n"><rect class="k-g46" x="2160" y="986.3" width="158" height="70.7"/><text x="2239" y="1003.5">module:1045:_call_impl<tspan x="2239" dy="14.6">46.31%</tspan><tspan x="2239" dy="14.6">(4.08%)</tspan><tspan x="2239" dy="14.6">144285634×</tspan></text></g>
<g id="n_lc171" class="n"><rect class="k-n4" x="3350" y="986.3" width="149" height="70.7"/><text x="3424.5" y="1003.5">game:171:&lt;listcomp&gt;<tspan x="3424.5" dy="14.6">4.98%</tspan><tspan x="3424.5" dy="14.6">(0.10%)</tspan><tspan x="3424.5" dy="14.6">918000×</tspan></text></g>
<g id="n_crop218" class="n"><rect class="k-n1" x="1121" y="1109" width="120" height="70.7"/><text x="1181" y="1126.2">crop:218:forward<tspan x="1181" dy="14.6">1.08%</tspan><tspan x="1181" dy="14.6">(0.00%)</tspan><tspan x="1181" dy="14.6">2400×</tspan></text></g>
<g id="n_ez89" class="n"><rect class="k-t22" x="1251" y="1109" width="200" height="70.7"/><text x="1351" y="1126.2">efficientzero_model:89:forward<tspan x="1351" dy="14.6">21.96%</tspan><tspan x="1351" dy="14.6">(0.37%)</tspan><tspan x="1351" dy="14.6">1845135×</tspan></text></g>
<g id="n_ez340" class="n"><rect class="k-b16" x="1461" y="1109" width="208" height="70.7"/><text x="1565" y="1126.2">efficientzero_model:340:forward<tspan x="1565" dy="14.6">15.61%</tspan><tspan x="1565" dy="14.6">(0.43%)</tspan><tspan x="1565" dy="14.6">2187885×</tspan></text></g>
<g id="n_ez32" class="n"><rect class="k-t29" x="1680" y="1109" width="200" height="70.7"/><text x="1780" y="1126.2">efficientzero_model:32:forward<tspan x="1780" dy="14.6">28.86%</tspan><tspan x="1780" dy="14.6">(2.37%)</tspan><tspan x="1780" dy="14.6">11756310×</tspan></text></g>
<g id="n_bn133" class="n"><rect class="k-b10" x="1892" y="1109" width="156" height="70.7"/><text x="1970" y="1126.2">batchnorm:133:forward<tspan x="1970" dy="14.6">10.48%</tspan><tspan x="1970" dy="14.6">(2.18%)</tspan><tspan x="1970" dy="14.6">35522295×</tspan></text></g>
<g id="n_ez226" class="n"><rect class="k-n3" x="2059" y="1109" width="208" height="70.7"/><text x="2163" y="1126.2">efficientzero_model:226:forward<tspan x="2163" dy="14.6">3.04%</tspan><tspan x="2163" dy="14.6">(0.15%)</tspan><tspan x="2163" dy="14.6">342750×</tspan></text></g>
<g id="n_conv442" class="n"><rect class="k-b17" x="2278" y="1109" width="125" height="70.7"/><text x="2340.5" y="1126.2">conv:442:forward<tspan x="2340.5" dy="14.6">17.15%</tspan><tspan x="2340.5" dy="14.6">(0.47%)</tspan><tspan x="2340.5" dy="14.6">32264160×</tspan></text></g>
<g id="n_lin95" class="n"><rect class="k-n2" x="2414" y="1109" width="120" height="70.7"/><text x="2474" y="1126.2">linear:95:forward<tspan x="2474" dy="14.6">2.45%</tspan><tspan x="2474" dy="14.6">(0.16%)</tspan><tspan x="2474" dy="14.6">9485040×</tspan></text></g>
<g id="n_trace" class="n"><rect class="k-n0" x="2545" y="1109" width="311" height="70.7"/><text x="2700.5" y="1126.2">~:0:&lt;built-in method torch._C._get_tracing_state&gt;<tspan x="2700.5" dy="14.6">0.58%</tspan><tspan x="2700.5" dy="14.6">(0.58%)</tspan><tspan x="2700.5" dy="14.6">144304834×</tspan></text></g>
<g id="n_ez160" class="n"><rect class="k-t26" x="2868" y="1109" width="207" height="70.7"/><text x="2971.5" y="1126.2">efficientzero_model:160:forward<tspan x="2971.5" dy="14.6">26.33%</tspan><tspan x="2971.5" dy="14.6">(0.08%)</tspan><tspan x="2971.5" dy="14.6">1845135×</tspan></text></g>
<g id="n_cont" class="n"><rect class="k-n7" x="3087" y="1109" width="147" height="70.7"/><text x="3160.5" y="1126.2">container:137:forward<tspan x="3160.5" dy="14.6">6.81%</tspan><tspan x="3160.5" dy="14.6">(0.30%)</tspan><tspan x="3160.5" dy="14.6">4738920×</tspan></text></g>
<g id="n_act" class="n"><rect class="k-n3" x="3246" y="1109" width="152" height="70.7"/><text x="3322" y="1126.2">activation:101:forward<tspan x="3322" dy="14.6">3.67%</tspan><tspan x="3322" dy="14.6">(0.30%)</tspan><tspan x="3322" dy="14.6">35510295×</tspan></text></g>
<g id="n_comp" class="n"><rect class="k-n4" x="3409" y="1109" width="306" height="70.7"/><text x="3562" y="1126.2">compression_helper:99:jpeg_data_decompressor<tspan x="3562" dy="14.6">4.90%</tspan><tspan x="3562" dy="14.6">(0.09%)</tspan><tspan x="3562" dy="14.6">8238024×</tspan></text></g>
<g id="n_base231" class="n"><rect class="k-n1" x="1119" y="1231.7" width="123" height="70.7"/><text x="1180.5" y="1248.9">base:231:forward<tspan x="1180.5" dy="14.6">1.07%</tspan><tspan x="1180.5" dy="14.6">(0.00%)</tspan><tspan x="1180.5" dy="14.6">2400×</tspan></text></g>
<g id="n_getattr" class="n"><rect class="k-n4" x="1735" y="1231.7" width="164" height="70.7"/><text x="1817" y="1248.9">module:1117:__getattr__<tspan x="1817" dy="14.6">4.61%</tspan><tspan x="1817" dy="14.6">(4.62%)</tspan><tspan x="1817" dy="14.6">383741084×</tspan></text></g>
<g id="n_fbn" class="n"><rect class="k-n6" x="1947" y="1231.7" width="184" height="70.7"/><text x="2039" y="1248.9">functional:2250:batch_norm<tspan x="2039" dy="14.6">6.22%</tspan><tspan x="2039" dy="14.6">(0.81%)</tspan><tspan x="2039" dy="14.6">35522295×</tspan></text></g>
<g id="n_conv434" class="n"><rect class="k-b17" x="2231" y="1231.7" width="165" height="70.7"/><text x="2313.5" y="1248.9">conv:434:_conv_forward<tspan x="2313.5" dy="14.6">16.22%</tspan><tspan x="2313.5" dy="14.6">(0.53%)</tspan><tspan x="2313.5" dy="14.6">32264160×</tspan></text></g>
<g id="n_flin" class="n"><rect class="k-n2" x="2432" y="1231.7" width="147" height="70.7"/><text x="2505.5" y="1248.9">functional:1831:linear<tspan x="2505.5" dy="14.6">2.15%</tspan><tspan x="2505.5" dy="14.6">(0.11%)</tspan><tspan x="2505.5" dy="14.6">9485040×</tspan></text></g>
<g id="n_frelu" class="n"><rect class="k-n3" x="3254" y="1231.7" width="135" height="70.7"/><text x="3321.5" y="1248.9">functional:1287:relu<tspan x="3321.5" dy="14.6">3.37%</tspan><tspan x="3321.5" dy="14.6">(0.39%)</tspan><tspan x="3321.5" dy="14.6">35510295×</tspan></text></g>
<g id="n_imdecode" class="n"><rect class="k-n4" x="3503" y="1231.7" width="118" height="70.7"/><text x="3562" y="1248.9">~:0:&lt;imdecode&gt;<tspan x="3562" dy="14.6">4.78%</tspan><tspan x="3562" dy="14.6">(4.78%)</tspan><tspan x="3562" dy="14.6">8238024×</tspan></text></g>
<g id="n_base206" class="n"><rect class="k-n1" x="1108" y="1354.4" width="144" height="70.7"/><text x="1180" y="1371.6">base:206:apply_func<tspan x="1180" dy="14.6">1.06%</tspan><tspan x="1180" dy="14.6">(0.00%)</tspan><tspan x="1180" dy="14.6">2400×</tspan></text></g>
<g id="n_bnb" class="n"><rect class="k-n5" x="1929" y="1354.4" width="220" height="70.7"/><text x="2039" y="1371.6">~:0:&lt;built-in method batch_norm&gt;<tspan x="2039" dy="14.6">5.16%</tspan><tspan x="2039" dy="14.6">(5.16%)</tspan><tspan x="2039" dy="14.6">35522295×</tspan></text></g>
<g id="n_conv2d" class="n"><rect class="k-b16" x="2195" y="1354.4" width="192" height="70.7"/><text x="2291" y="1371.6">~:0:&lt;built-in method conv2d&gt;<tspan x="2291" dy="14.6">15.70%</tspan><tspan x="2291" dy="14.6">(15.70%)</tspan><tspan x="2291" dy="14.6">32264160×</tspan></text></g>
<g id="n_nnlin" class="n"><rect class="k-n2" x="2399" y="1354.4" width="262" height="70.7"/><text x="2530" y="1371.6">~:0:&lt;built-in method torch._C._nn.linear&gt;<tspan x="2530" dy="14.6">2.03%</tspan><tspan x="2530" dy="14.6">(2.03%)</tspan><tspan x="2530" dy="14.6">9485040×</tspan></text></g>
<g id="n_relub" class="n"><rect class="k-n2" x="3236" y="1354.4" width="172" height="70.7"/><text x="3322" y="1371.6">~:0:&lt;built-in method relu&gt;<tspan x="3322" dy="14.6">2.95%</tspan><tspan x="3322" dy="14.6">(2.95%)</tspan><tspan x="3322" dy="14.6">35510295×</tspan></text></g>
<g id="n_crop154" class="n"><rect class="k-n1" x="1095" y="1477.1" width="170" height="70.7"/><text x="1180" y="1494.3">crop:154:apply_transform<tspan x="1180" dy="14.6">1.06%</tspan><tspan x="1180" dy="14.6">(0.00%)</tspan><tspan x="1180" dy="14.6">2400×</tspan></text></g>
<g id="n_crop2d" class="n"><rect class="k-n1" x="1088" y="1599.8" width="184" height="70.7"/><text x="1180" y="1617">crop2d:281:crop_by_indices<tspan x="1180" dy="14.6">1.06%</tspan><tspan x="1180" dy="14.6">(1.03%)</tspan><tspan x="1180" dy="14.6">2400×</tspan></text></g>
</svg>
